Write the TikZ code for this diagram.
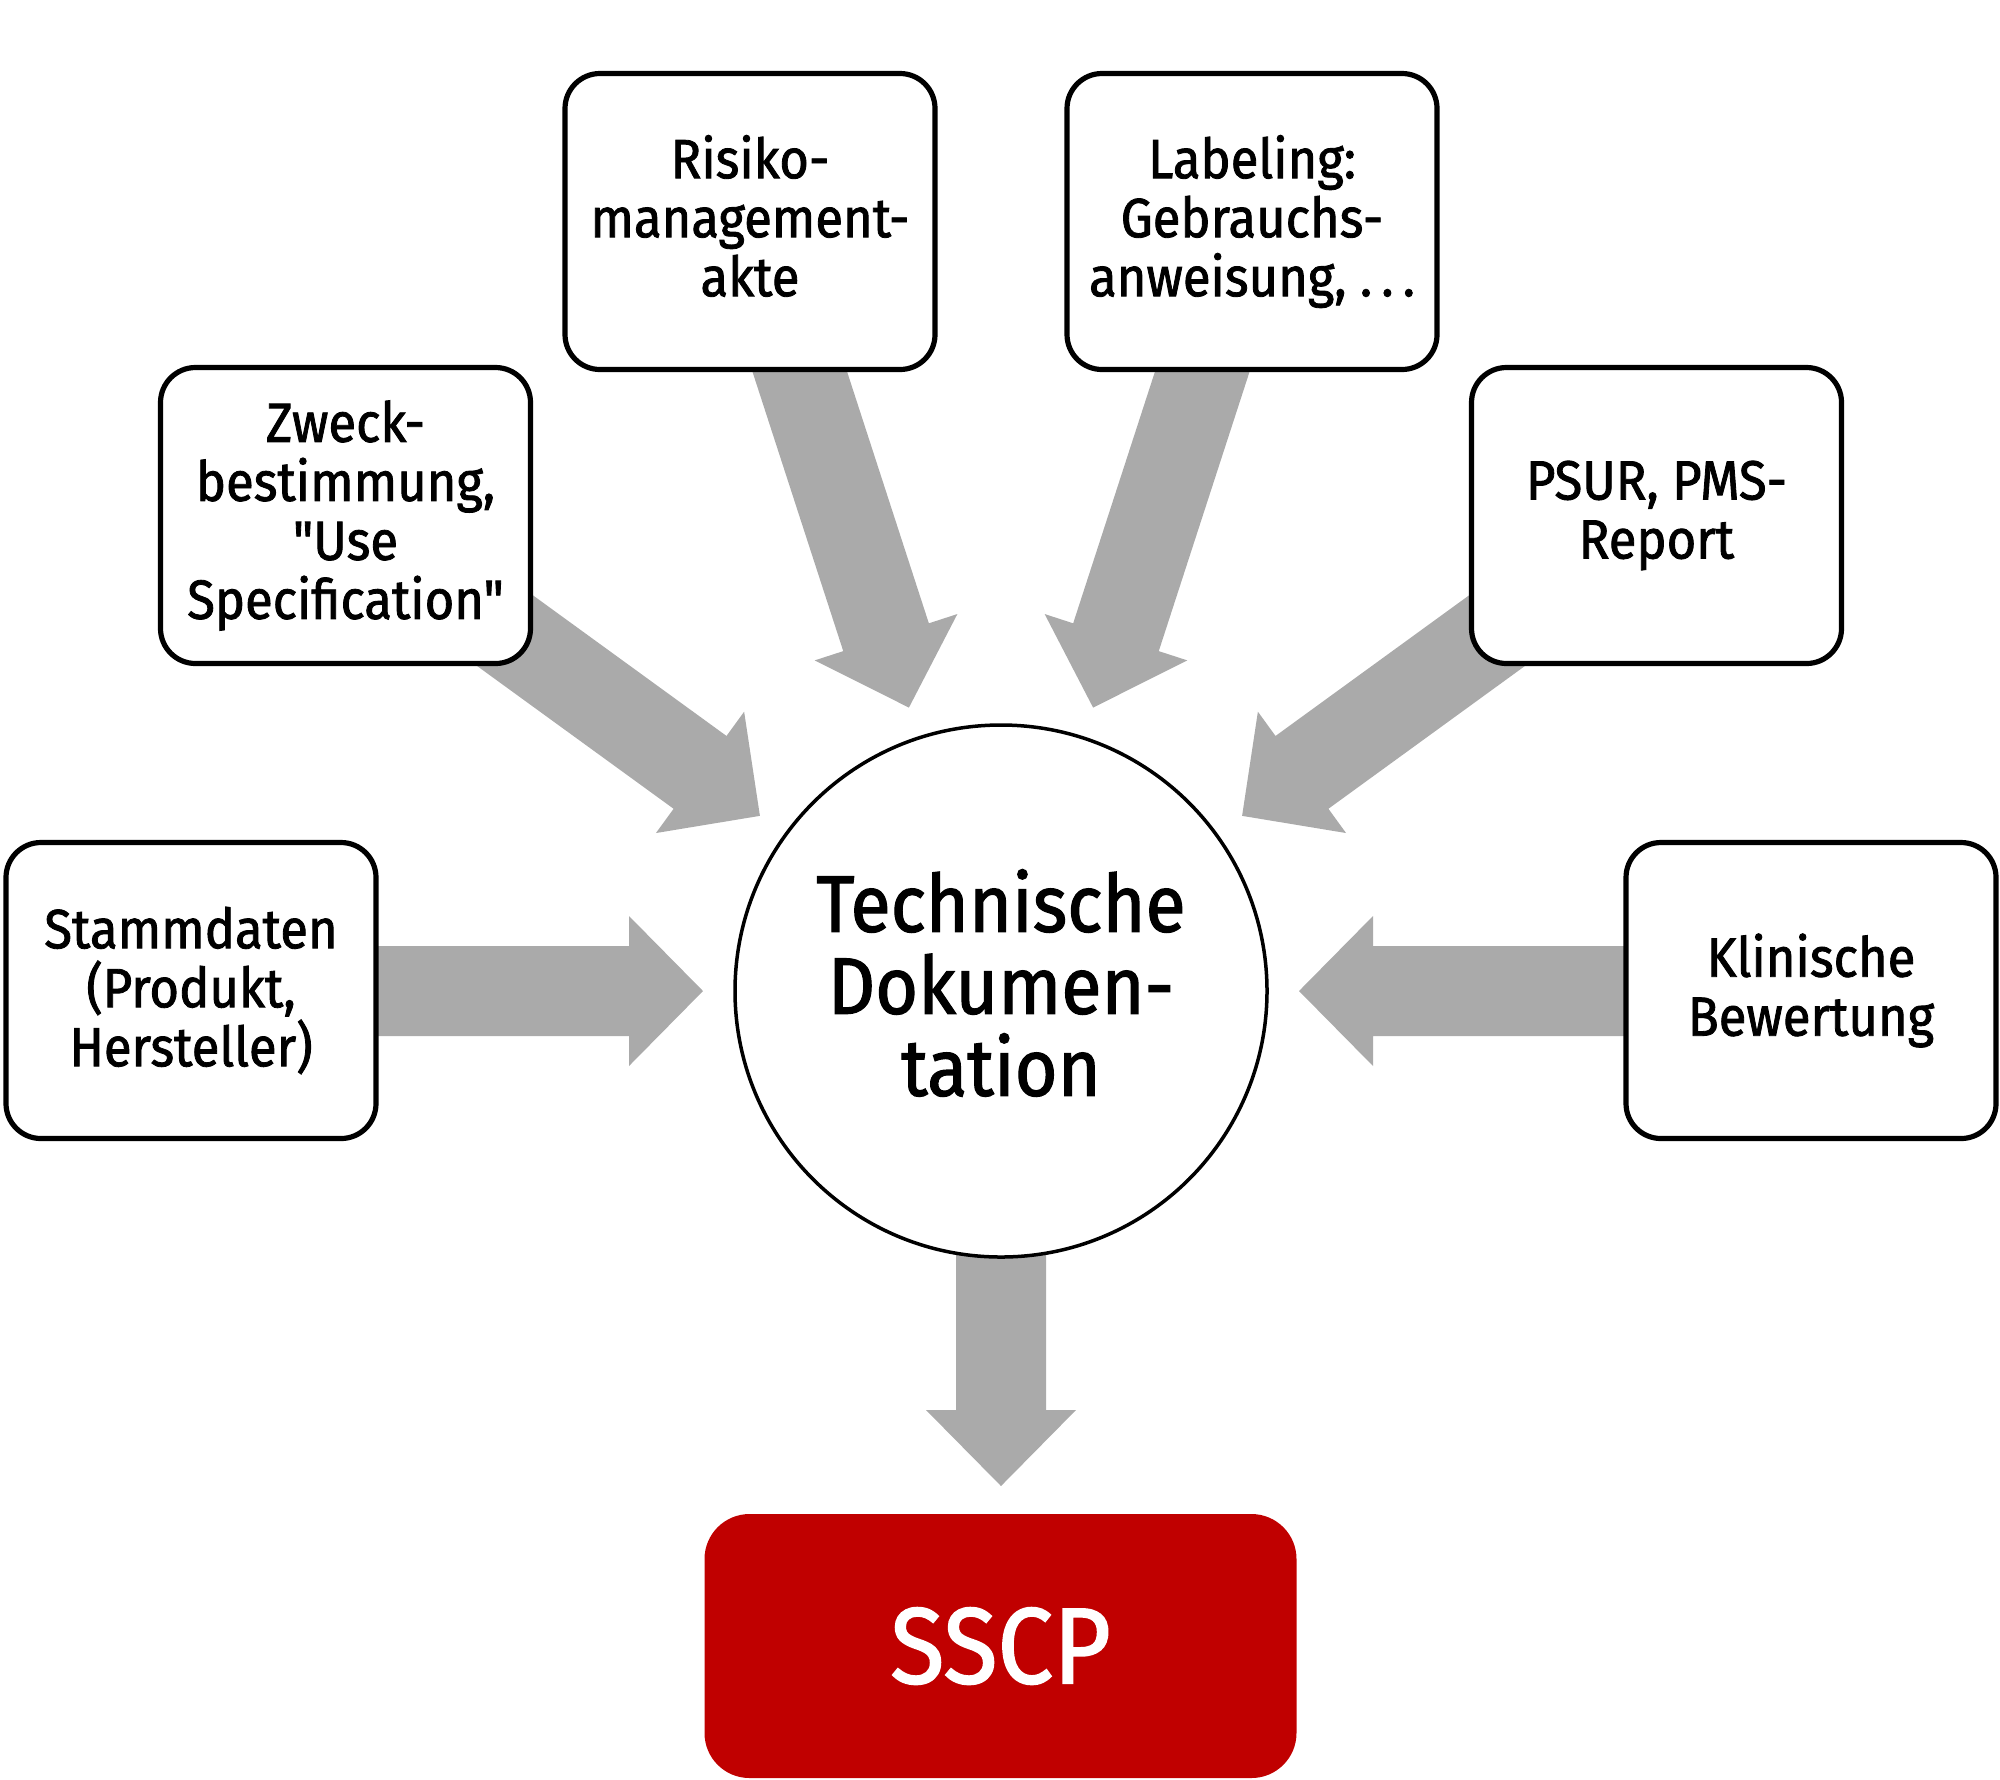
\documentclass[tikz,border=0pt]{standalone}
\usepackage{fontspec}
\setmainfont{Fira Sans}[Ligatures=TeXOff, FakeStretch=0.92, FakeBold=1.5]
\definecolor{arrowgray}{HTML}{AAAAAA}
\definecolor{sscpred}{HTML}{C00000}
\begin{document}
\begin{tikzpicture}[x=0.5pt,y=-0.5pt,
  infobox/.style={draw=black, line width=2.6pt, fill=white, rounded corners=17.5pt,
    minimum width=185pt, minimum height=148pt, align=center, inner sep=0pt,
    font=\fontsize{27.6pt}{29.5pt}\selectfont},
  centre/.style={circle, draw=black, line width=1.75pt, fill=white, minimum size=266pt,
    inner sep=0pt, align=center, font=\fontsize{40pt}{41pt}\selectfont},
  sscpbox/.style={fill=sscpred, rounded corners=22.5pt, minimum width=296pt,
    minimum height=132pt, inner sep=0pt, text=white, font=\fontsize{54pt}{58pt}\selectfont},
  blockarrow/.style={fill=arrowgray, draw=none}]
\useasboundingbox (0,0) rectangle (2000,1779);
\coordinate (ctr) at (1001,991);
% block arrows (drawn behind boxes and circle)
\foreach \ang in {180,144,108,72,36,0} {
  \fill[blockarrow, shift={(ctr)}, rotate=\ang]
    (700,-45) -- (372,-45) -- (372,-75) -- (298,0) -- (372,75) -- (372,45) -- (700,45) -- cycle;
}
\fill[blockarrow, shift={(ctr)}, rotate=270]
  (250,-45) -- (419,-45) -- (419,-75) -- (495,0) -- (419,75) -- (419,45) -- (250,45) -- cycle;
% centre
\node[centre] (c) at (ctr) {Technische\\Dokumen-\\tation\vphantom{g}};
% boxes
\node[infobox] (stamm) at (191,990.5) {Stammdaten\\(Produkt,\\Hersteller)};
\node[infobox] (zweck) at (345.5,515.5) {Zweck-\\bestimmung,\\"Use\\Specification"};
\node[infobox] (risiko) at (750,221.5) {Risiko-\\management-\\akte\vphantom{g}};
\node[infobox] (label) at (1252,221.5) {Labeling:\\Gebrauchs-\\anweisung, .\,.\,.};
\node[infobox] (psur) at (1656.5,515.5) {PSUR, PMS-\\Report};
\node[infobox] (klin) at (1811,990.5) {Klinische\\Bewertung};
% SSCP
\node[sscpbox] (sscp) at (1000.5,1646) {SSCP};
\end{tikzpicture}
\end{document}
